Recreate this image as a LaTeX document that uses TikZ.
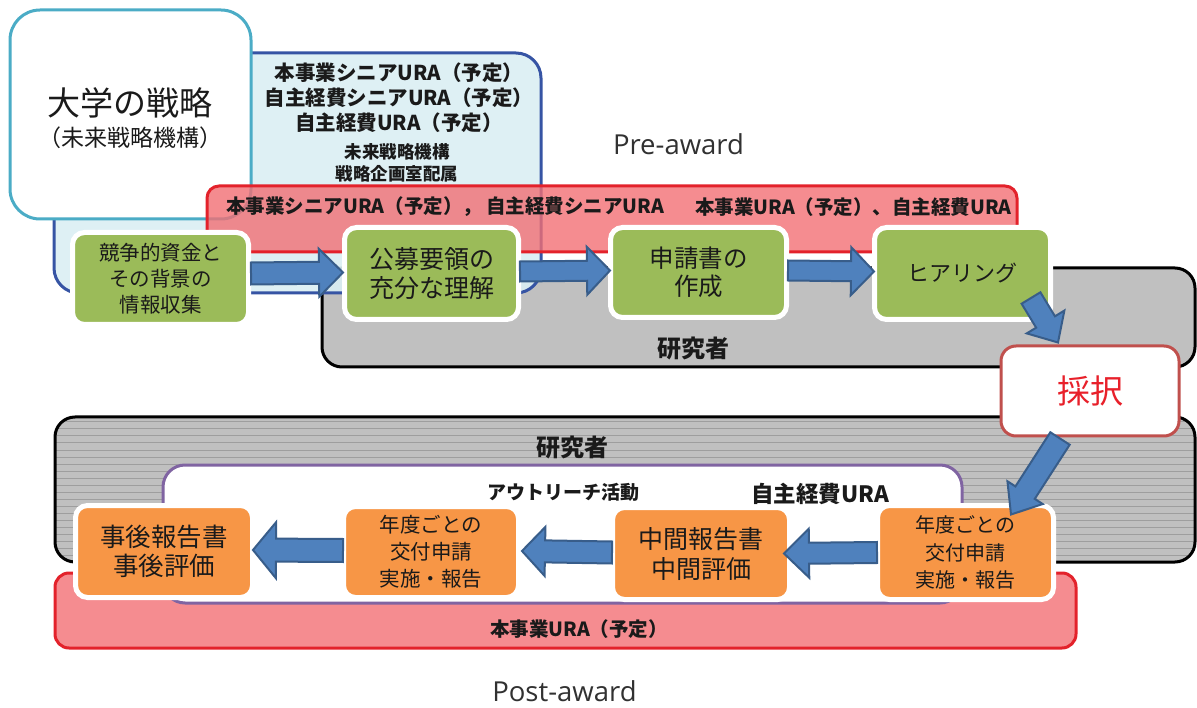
\documentclass[tikz,border=0pt]{standalone}
\usepackage{fontspec}
\setmainfont{Noto Sans CJK JP}
\newfontfamily\osans{Open Sans}
\usetikzlibrary{calc}
\definecolor{cyanB}{HTML}{4BACC6}
\definecolor{blueB}{HTML}{3654A4}
\definecolor{blueF}{HTML}{DAEEF3}
\definecolor{redB}{HTML}{E3222B}
\definecolor{redF}{HTML}{F26F74}
\definecolor{redF2}{HTML}{F58C90}
\definecolor{gry}{HTML}{C0C0C0}
\definecolor{stripe}{HTML}{9E9E9E}
\definecolor{purp}{HTML}{8064A2}
\definecolor{grn}{HTML}{9BBB59}
\definecolor{org}{HTML}{F79646}
\definecolor{arrF}{HTML}{4F81BD}
\definecolor{arrB}{HTML}{385D8A}
\definecolor{saiB}{HTML}{C0504D}
\definecolor{saiT}{HTML}{E8202A}
\definecolor{txt}{HTML}{1A1A1A}
\newcommand\fatarrow[5]{%
  \coordinate (faS) at #1;
  \coordinate (faE) at #2;
  \coordinate (faH) at ($(faE)!#5!(faS)$);
  \draw[fatarr] ($(faS)!#3!90:(faE)$) -- ($(faH)!#3!90:(faE)$) -- ($(faH)!#4!90:(faE)$) -- (faE)
    -- ($(faH)!#4!-90:(faE)$) -- ($(faH)!#3!-90:(faE)$) -- ($(faS)!#3!-90:(faE)$) -- cycle;
}
\begin{document}
\begin{tikzpicture}[x=1pt,y=-1pt,
  fatarr/.style={fill=arrF, draw=arrB, line width=2pt, line join=miter},
  procbox/.style={draw=white, line width=5pt, rounded corners=12pt, inner sep=0pt, align=center, text=txt},
  gbox/.style={procbox, fill=grn},
  obox/.style={procbox, fill=org},
  lbl/.style={inner sep=0pt, text=txt, align=center},
  boldlbl/.style={lbl, font=\bfseries\fontsize{19.5}{25}\selectfont},
  award/.style={inner sep=0pt, anchor=base, text depth=0pt, text=txt!90, font=\osans\fontsize{27.5}{32}\selectfont},
]
\useasboundingbox (0,0) rectangle (1197,708);

% ---------- Pre-award ----------
\draw[fill=gry, draw=black, line width=3pt, rounded corners=20pt] (322,268) rectangle (1195,367);
\draw[fill=blueF, fill opacity=0.9, draw=blueB, line width=3pt, rounded corners=25pt] (54,53) rectangle (541,293);
\draw[fill=white, draw=cyanB, line width=3pt, rounded corners=30pt] (10,10) rectangle (251,219);
\draw[fill=redF, fill opacity=0.8, draw=redB, line width=3pt, rounded corners=12pt] (207,186) rectangle (1017,252);

\node[lbl, font=\fontsize{33}{38}\selectfont] (univ) at (130,103) {大学の戦略};
\node[lbl, font=\fontsize{23}{26}\selectfont] (univsub) at (130,138) {（未来戦略機構）};

\node[boldlbl, font=\bfseries\fontsize{20.5}{25}\selectfont] (bluetxt) at (399,98) {本事業シニアURA（予定）\\自主経費シニアURA（予定）\\自主経費URA（予定）};
\node[lbl, font=\bfseries\fontsize{17.5}{22}\selectfont] (bluesub) at (397,163) {未来戦略機構\\戦略企画室配属};

\node[boldlbl, anchor=west] (redtxtA) at (226,207) {本事業シニアURA（予定）， 自主経費シニアURA};
\node[boldlbl, anchor=east] (redtxtB) at (1012,207) {本事業URA（予定）、自主経費URA};

\node[award] (pre) at (678.5,155) {Pre-award};

\node[gbox, minimum width=176pt, minimum height=92pt, font=\fontsize{20.5}{26}\selectfont] (g1) at (160.5,278.5) {競争的資金と\\その背景の\\情報収集};
\node[gbox, minimum width=174pt, minimum height=92pt, font=\fontsize{25}{29}\selectfont] (g2) at (431.5,273.5) {公募要領の\\充分な理解};
\node[gbox, minimum width=176pt, minimum height=90pt, font=\fontsize{24.5}{28}\selectfont] (g3) at (698.5,272.5) {申請書の\\作成};
\node[gbox, minimum width=176pt, minimum height=92pt, font=\fontsize{22}{26}\selectfont] (g4) at (962.5,273.5) {ヒアリング};

\node[boldlbl, font=\bfseries\fontsize{24}{28}\selectfont] (resA) at (693,348) {研究者};

\fatarrow{(g1.east |- g2.west)}{($(g2.west)+(1,-1)$)}{11pt}{24pt}{24pt}
\fatarrow{($(g2.east)+(-1,-2)$)}{($(g3.west)+(2,-2)$)}{10pt}{24pt}{23pt}
\fatarrow{($(g3.east)+(-1,-2)$)}{($(g4.west)+(2,-2)$)}{10pt}{24pt}{23pt}

% ---------- Post-award ----------
\begin{scope}
  \clip[rounded corners=20pt] (55,417) rectangle (1195,562);
  \fill[gry] (55,417) rectangle (1195,562);
  \foreach \yy in {422,429,...,560} \draw[stripe, line width=1pt] (55,\yy) -- (1195,\yy);
\end{scope}
\draw[draw=black, line width=3pt, rounded corners=20pt] (55,417) rectangle (1195,562);
\draw[fill=redF2, draw=redB, line width=3pt, rounded corners=14pt] (55,573) rectangle (1076,648);
\draw[fill=white, draw=purp, line width=3pt, rounded corners=22pt] (163,465) rectangle (962,603);

\node[boldlbl, font=\bfseries\fontsize{24}{28}\selectfont] (resB) at (572,447) {研究者};
\node[boldlbl, font=\bfseries\fontsize{19}{22}\selectfont] (outreach) at (563,492) {アウトリーチ活動};
\node[boldlbl, font=\bfseries\fontsize{22.5}{26}\selectfont] (jishu) at (820,494) {自主経費URA};
\node[boldlbl] (honjigyo) at (579,629) {本事業URA（予定）};

\node[award] (post) at (564.5,701) {Post-award};

\node[obox, minimum width=177pt, minimum height=92pt, font=\fontsize{25.5}{29}\selectfont] (o1) at (164,551.5) {事後報告書\\事後評価};
\node[obox, minimum width=175pt, minimum height=91pt, font=\fontsize{20.5}{27}\selectfont] (o2) at (431,552) {年度ごとの\\交付申請\\実施・報告};
\node[obox, minimum width=177pt, minimum height=92pt, font=\fontsize{25}{30}\selectfont] (o3) at (701,553.5) {中間報告書\\中間評価};
\node[obox, minimum width=176pt, minimum height=94pt, font=\fontsize{20}{27.5}\selectfont] (o4) at (965.5,552.5) {年度ごとの\\交付申請\\実施・報告};

\fatarrow{($(o4.west)+(2,0)$)}{($(o3.east)+(-8,0)$)}{10.5pt}{24.5pt}{25pt}
\fatarrow{($(o3.west)+(2,-1)$)}{($(o2.east)+(1,-1)$)}{11pt}{24.5pt}{23pt}
\fatarrow{($(o2.west)+(2,-1.5)$)}{($(o1.east)+(-2,-1.5)$)}{11.5pt}{28pt}{23pt}

% ---------- Adoption ----------
\node[draw=saiB, fill=white, line width=3pt, rounded corners=15pt, minimum width=178pt, minimum height=90pt, text=saiT, font=\fontsize{33}{38}\selectfont, inner sep=0pt] (sai) at (1090,391) {採択};

\fatarrow{($(g4.south east)+(-22,-24)$)}{($(sai.north)+(-32,-2)$)}{11pt}{22pt}{24pt}
\fatarrow{($(sai.south)+(-30,1)$)}{($(o4.north)+(45.5,11.5)$)}{11.5pt}{21pt}{26pt}

\end{tikzpicture}
\end{document}
